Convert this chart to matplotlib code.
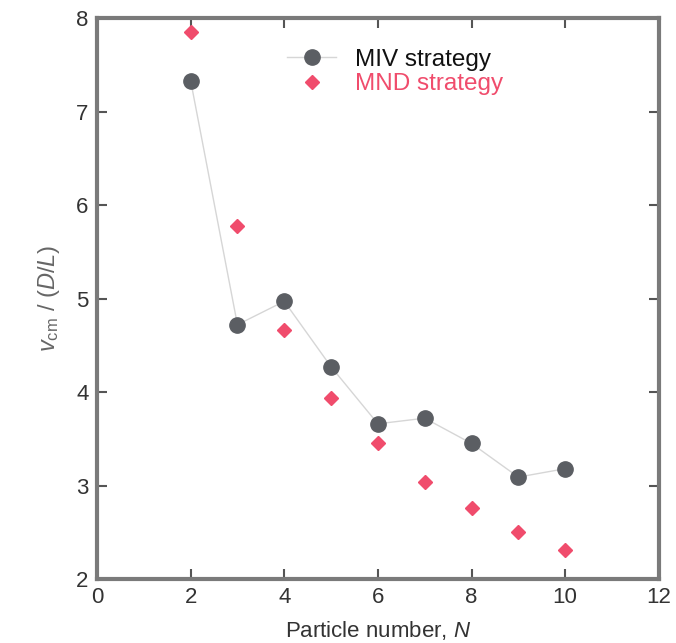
import matplotlib
matplotlib.use("Agg")
import matplotlib.pyplot as plt

# data
particle_n = [2, 3, 4, 5, 6, 7, 8, 9, 10]
miv_speed = [7.33, 4.72, 4.97, 4.27, 3.66, 3.72, 3.45, 3.09, 3.18]
mnd_speed = [7.85, 5.78, 4.66, 3.94, 3.46, 3.04, 2.76, 2.50, 2.31]

plt.rcParams['font.family'] = ['Liberation Sans', 'DejaVu Sans']
plt.rcParams['mathtext.fontset'] = 'custom'
plt.rcParams['mathtext.rm'] = 'Liberation Sans'
plt.rcParams['mathtext.it'] = 'Liberation Sans:italic'

fig = plt.figure(figsize=(6.76, 6.43), dpi=100)
ax = fig.add_axes([0.1435, 0.0995, 0.831, 0.8725])

frame_col = '#7a7a7a'
miv_col = '#5b5e63'
mnd_col = '#f04c6c'

ax.plot(particle_n, miv_speed, color='#d6d6d6', lw=1.0, marker='o',
        mfc=miv_col, mec=miv_col, ms=11, label='MIV strategy', zorder=3)
ax.plot(particle_n, mnd_speed, 'D', color=mnd_col, ms=7.5, zorder=2,
        label='MND strategy')

ax.set_xlim(0, 12)
ax.set_ylim(2, 8)
ax.set_xticks(range(0, 13, 2))
ax.set_yticks(range(2, 9))

for s in ax.spines.values():
    s.set_color(frame_col)
    s.set_linewidth(3)
ax.tick_params(direction='in', length=7, width=1.5, color='#555555',
               top=True, right=True, labelsize=16, labelcolor='#333333', pad=6)

ax.set_xlabel('Particle number, $\\mathit{N}$', fontsize=16, color='#333333',
              labelpad=8)
ax.set_ylabel('$\\mathit{v}_{\\mathrm{cm}}$ / ($\\mathit{D/L}$)', fontsize=17,
              color='#666666', labelpad=10)

leg = ax.legend(loc='upper left', bbox_to_anchor=(0.30, 0.984), frameon=False,
                fontsize=17.5, handlelength=2.0, handletextpad=0.8,
                labelspacing=0.1)
leg.get_texts()[0].set_color('#111111')
leg.get_texts()[1].set_color(mnd_col)

fig.savefig('out.png', dpi=100)
